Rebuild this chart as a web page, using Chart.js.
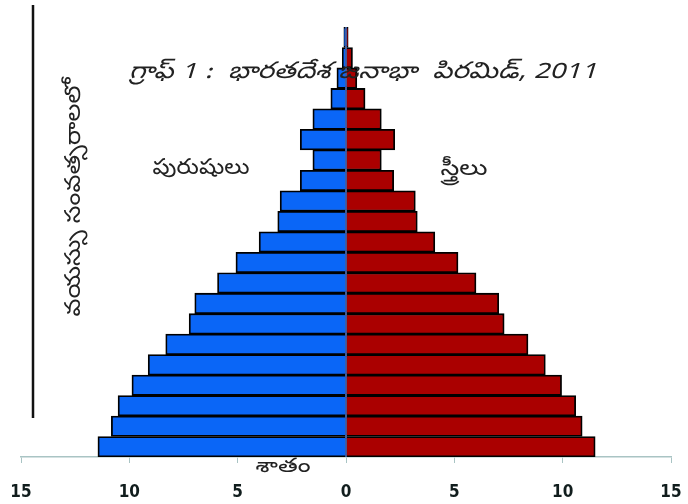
<!DOCTYPE html>
<html>
<head>
<meta charset="utf-8">
<script src="https://cdn.jsdelivr.net/npm/chart.js@4.4.1/dist/chart.umd.min.js"></script>
<style>
  html, body { margin: 0; padding: 0; background: #ffffff; }
  #wrap { width: 688px; height: 504px; position: relative; }
</style>
</head>
<body>
<div id="wrap"><canvas id="c" width="688" height="504"></canvas></div>
<script>
// Age groups, youngest first (drawn bottom to top)
const ageGroups = ["0-4","5-9","10-14","15-19","20-24","25-29","30-34","35-39","40-44","45-49",
                   "50-54","55-59","60-64","65-69","70-74","75-79","80-84","85-89","90-94","95-99","100+"];
// Percent of population
const maleValues   = [11.45, 10.83, 10.52, 9.88, 9.13, 8.32, 7.24, 6.98, 5.93, 5.08,
                      4.01, 3.15, 3.04, 2.11, 1.53, 2.11, 1.53, 0.70, 0.42, 0.17, 0.10];
const femaleValues = [11.50, 10.90, 10.60, 9.95, 9.20, 8.40, 7.30, 7.05, 6.00, 5.17,
                      4.10, 3.29, 3.20, 2.20, 1.63, 2.25, 1.63, 0.88, 0.50, 0.30, 0.10];
const xTicks = [-15, -10, -5, 0, 5, 10, 15];

const titleText = "గ్రాఫ్ 1 :  భారతదేశ జనాభా  పిరమిడ్, 2011";
const yTitleText = "వయస్సు సంవత్సరాలలో";
const maleLabel = "పురుషులు";
const femaleLabel = "స్త్రీలు";
const xTitleText = "శాతం";

const teluguFont = "'Noto Sans Telugu','Noto Sans','DejaVu Sans',sans-serif";

function fitText(ctx, text, cx, cy, targetWidth) {
  const w = ctx.measureText(text).width;
  const sx = targetWidth / w;
  ctx.save();
  ctx.translate(cx, cy);
  ctx.scale(sx, 1);
  ctx.fillText(text, 0, 0);
  ctx.restore();
}

const overlay = {
  id: 'overlay',
  afterDatasetsDraw(chart) {
    const ctx = chart.ctx;
    const xs = chart.scales.x;
    const area = chart.chartArea;
    ctx.save();
    // center divider line at 0
    const x0 = xs.getPixelForValue(0);
    ctx.strokeStyle = '#1b3f8f';
    ctx.lineWidth = 1.5;
    ctx.beginPath();
    ctx.moveTo(x0, area.top);
    ctx.lineTo(x0, area.bottom);
    ctx.stroke();

    // left vertical line
    ctx.strokeStyle = '#111111';
    ctx.lineWidth = 2.5;
    ctx.beginPath();
    ctx.moveTo(33, 5);
    ctx.lineTo(33, 418);
    ctx.stroke();

    ctx.fillStyle = '#222222';
    ctx.textBaseline = 'middle';
    ctx.textAlign = 'center';
    // title
    ctx.font = "italic 23px " + teluguFont;
    fitText(ctx, titleText, 363, 75, 468);
    // series labels
    ctx.font = "22px " + teluguFont;
    fitText(ctx, maleLabel, 201, 171, 97);
    fitText(ctx, femaleLabel, 464, 172, 47);
    // x title
    ctx.font = "20px " + teluguFont;
    fitText(ctx, xTitleText, 283, 469, 55);
    // y title rotated
    ctx.translate(77, 197);
    ctx.rotate(-Math.PI / 2);
    ctx.font = "22px " + teluguFont;
    fitText(ctx, yTitleText, 0, 0, 239);
    ctx.restore();
  }
};

new Chart(document.getElementById('c'), {
  type: 'bar',
  data: {
    labels: ageGroups,
    datasets: [
      {
        label: maleLabel,
        data: maleValues.map(v => -v),
        backgroundColor: '#0a66f7',
        borderColor: '#000000',
        borderWidth: 1.8,
        barPercentage: 1,
        categoryPercentage: 1
      },
      {
        label: femaleLabel,
        data: femaleValues,
        backgroundColor: '#aa0000',
        borderColor: '#000000',
        borderWidth: 1.8,
        barPercentage: 1,
        categoryPercentage: 1
      }
    ]
  },
  options: {
    indexAxis: 'y',
    responsive: false,
    animation: false,
    devicePixelRatio: 1,
    layout: { padding: { left: 21, right: 17, top: 27, bottom: 0 } },
    plugins: {
      legend: { display: false },
      title: { display: false },
      tooltip: { enabled: false }
    },
    scales: {
      x: {
        type: 'linear',
        min: -15,
        max: 15,
        afterBuildTicks(axis) { axis.ticks = xTicks.map(v => ({ value: v })); },
        afterFit(scale) {
          scale.paddingLeft = 0;
          scale.paddingRight = 0;
          scale.height = 47;
        },
        ticks: {
          callback: v => Math.abs(v),
          color: '#111d1d',
          font: { family: "'DejaVu Sans Condensed','DejaVu Sans', sans-serif", size: 17, weight: 'bold' },
          padding: 19,
          maxRotation: 0
        },
        grid: {
          drawOnChartArea: false,
          drawTicks: true,
          tickLength: 6,
          color: '#a9c4c4'
        },
        border: { display: true, color: '#a9c4c4', width: 1.5 }
      },
      y: {
        type: 'category',
        stacked: true,
        reverse: true,
        display: false
      }
    }
  },
  plugins: [overlay]
});
</script>
</body>
</html>
